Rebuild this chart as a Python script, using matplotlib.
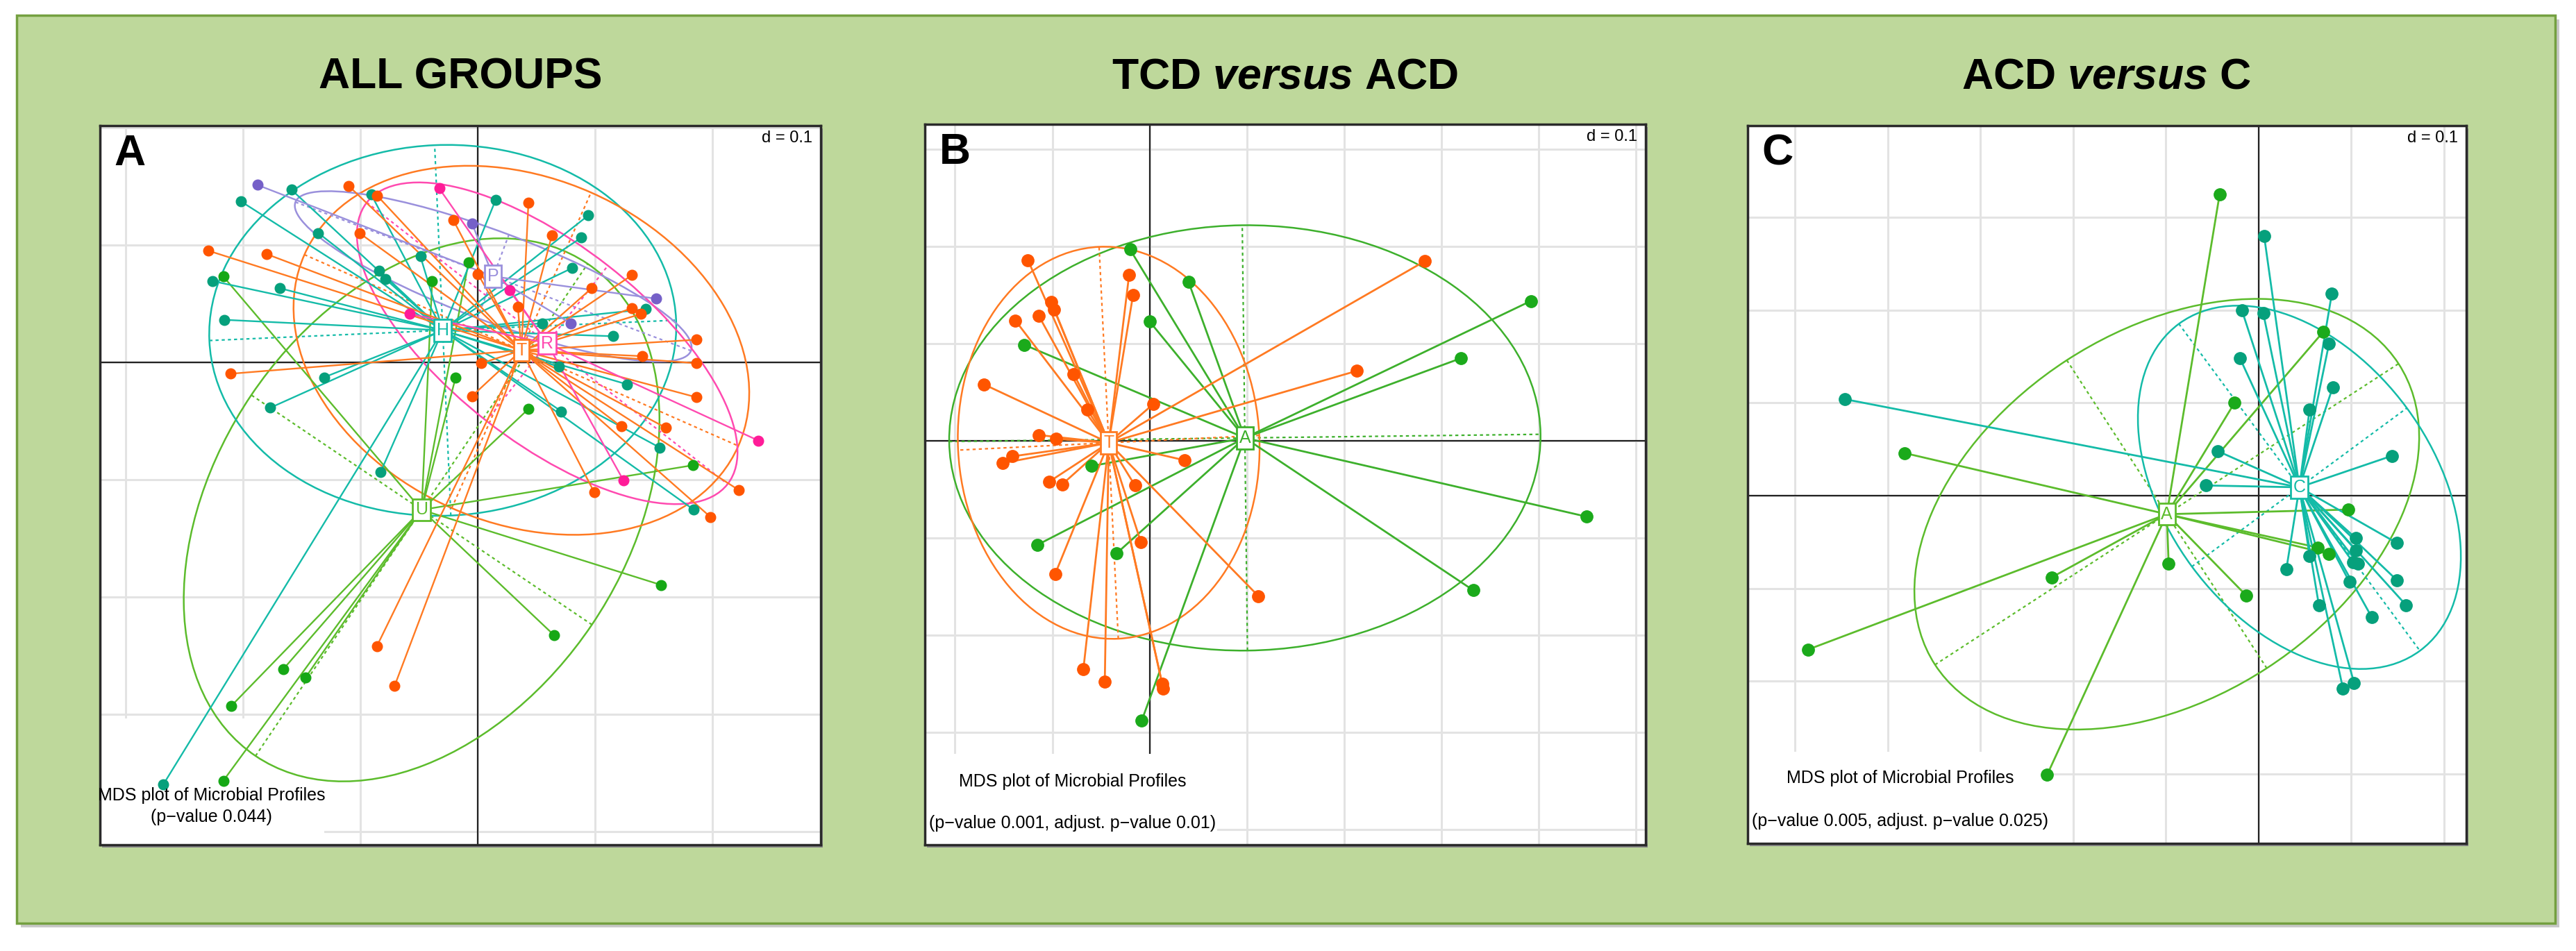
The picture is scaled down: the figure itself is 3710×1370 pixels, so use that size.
import numpy as np
import matplotlib
matplotlib.use("Agg")
import matplotlib.pyplot as plt
from matplotlib.patches import Ellipse, Rectangle

plt.rcParams['font.family'] = ['Liberation Sans', 'DejaVu Sans']
plt.rcParams['mathtext.fontset'] = 'custom'
plt.rcParams['mathtext.rm'] = 'Liberation Sans:bold'
plt.rcParams['mathtext.it'] = 'Liberation Sans:italic:bold'

# ---- data, in grid units (one grid square = d = 0.1) ----
# panel A : all groups
a_H_x = [-1.59, -2.02, -0.91, -1.36, -2.26, -1.69, -2.16, -0.84, -0.79, -0.49, 0.15, 0.94, 0.88,
         0.80, 0.55, 1.15, 1.43, -1.31, -1.77, -0.83, 0.71, 1.27, 1.55, 1.84, -2.68, 0.69]
a_H_y = [1.47, 1.37, 1.43, 1.10, 0.69, 0.63, 0.36, 0.78, 0.71, 0.90, 1.38, 1.25, 1.06,
         0.80, 0.33, 0.22, 0.45, -0.13, -0.39, -0.94, -0.42, -0.19, -0.73, -1.26, -3.60, -0.04]
a_T_x = [-1.10, -0.86, -0.21, -1.01, -2.30, -1.80, 0.43, 0.63, 1.31, 0.97, 0.34, 1.31, 1.39, 1.86,
         1.40, 1.86, 1.86, -2.11, 0.03, -0.05, 1.22, 1.60, 0.99, 2.22, 1.98, -0.86, -0.71, 0.00]
a_T_y = [1.50, 1.42, 1.21, 1.10, 0.95, 0.92, 1.36, 1.08, 0.74, 0.63, 0.47, 0.46, 0.41, 0.19,
         0.05, -0.01, -0.30, -0.10, -0.01, -0.29, -0.55, -0.56, -1.11, -1.09, -1.32, -2.42, -2.76, 0.75]
a_R_x = [-0.33, 0.27, -0.58, 2.39, 1.24]
a_R_y = [1.48, 0.61, 0.41, -0.67, -1.01]
a_P_x = [-1.88, -0.05, 1.52, 0.79]
a_P_y = [1.51, 1.18, 0.54, 0.33]
a_U_x = [-2.17, -0.39, -0.08, -0.19, 0.43, 1.83, 1.56, 0.65, -1.66, -1.47, -2.10, -2.17]
a_U_y = [0.73, 0.69, 0.85, -0.13, -0.40, -0.88, -1.90, -2.33, -2.62, -2.69, -2.93, -3.57]
a_centers = {'H': (-0.30, 0.27), 'T': (0.37, 0.10), 'R': (0.59, 0.16), 'P': (0.13, 0.73), 'U': (-0.48, -1.26)}
# ellipse half axes and angle (deg)
a_ell = {'H': (1.99, 1.58, 2.5), 'T': (2.02, 1.47, -23.8), 'R': (1.95, 0.84, -38.0),
         'P': (1.80, 0.38, -20.6), 'U': (2.53, 1.75, 56.0)}

# panel B : TCD versus ACD
b_T_x = [-1.25, -0.21, -0.17, -1.01, -0.98, -1.38, -1.14, -0.78, -0.64, -1.70, -1.14, -0.96, -1.41, -1.51,
         -1.03, -0.90, -0.15, 0.04, 0.36, -0.09, -0.97, 1.12, 2.83, 2.13, -0.68, -0.46, 0.13, 0.14]
b_T_y = [1.86, 1.71, 1.50, 1.43, 1.35, 1.24, 1.29, 0.69, 0.32, 0.58, 0.06, 0.02, -0.16, -0.23,
         -0.42, -0.45, -0.46, 0.38, -0.20, -1.04, -1.37, -1.60, 1.85, 0.72, -2.35, -2.48, -2.50, -2.55]
b_A_x = [-0.20, 0.40, 0.00, -1.29, 3.92, 3.20, 4.49, 3.33, -0.60, -1.15, -0.34, -0.08]
b_A_y = [1.97, 1.64, 1.23, 0.99, 1.44, 0.85, -0.78, -1.54, -0.26, -1.07, -1.16, -2.88]
b_centers = {'T': (-0.42, -0.02), 'A': (0.98, 0.03)}
b_ell = {'T': (2.02, 1.55, 92.8), 'A': (3.04, 2.19, 0.7)}

# panel C : ACD versus C
c_A_x = [-0.42, -3.82, -4.86, -2.23, -2.28, -0.97, -0.13, -0.26, 0.70, 0.97, 0.64, 0.76]
c_A_y = [3.25, 0.46, -1.66, -0.88, -3.01, -0.73, -1.08, 1.00, 1.77, -0.15, -0.56, -0.63]
c_C_x = [0.80, 0.55, 1.44, 1.49, 1.05, 1.05, 1.02, 1.07, 0.55, 0.30, 0.98, 1.49, 1.59, 1.22,
         0.65, 0.06, 0.79, -0.18, 0.05, 0.76, -0.20, -0.44, -0.57, -4.46, 0.91, 1.03]
c_C_y = [1.17, 0.93, 0.43, -0.51, -0.46, -0.59, -0.72, -0.73, -0.65, -0.79, -0.93, -0.91, -1.18, -1.31,
         -1.18, 2.80, 2.18, 2.00, 1.97, 1.64, 1.48, 0.48, 0.11, 1.04, -2.08, -2.02]
c_centers = {'A': (-0.99, -0.20), 'C': (0.44, 0.09)}
c_ell = {'A': (2.98, 1.98, 33.0), 'C': (2.19, 1.44, -53.6)}

# colours: (points, lines)
TEAL = ('#06A07C', '#14BBA8')
ORANGE = ('#FF5500', '#FF7A22')
PINK = ('#FF1C98', '#FF4AB0')
PURPLE = ('#7560C8', '#9A90DC')
GREEN = ('#16A816', '#5CBC2C')


def draw_group(ax, xs, ys, center, ell, cols, label, ms, lw):
    pc, lc = cols
    cx, cy = center
    a, b, ang = ell
    t = np.deg2rad(ang)
    ax.add_patch(Ellipse((cx, cy), 2 * a, 2 * b, angle=ang, fill=False, ec=lc, lw=1.8, zorder=2))
    ax.plot([cx - a * np.cos(t), cx + a * np.cos(t)], [cy - a * np.sin(t), cy + a * np.sin(t)],
            ls=(0, (2, 2)), color=lc, lw=1.6, zorder=2)
    ax.plot([cx + b * np.sin(t), cx - b * np.sin(t)], [cy - b * np.cos(t), cy + b * np.cos(t)],
            ls=(0, (2, 2)), color=lc, lw=1.6, zorder=2)
    for x, y in zip(xs, ys):
        ax.plot([cx, x], [cy, y], color=lc, lw=lw, zorder=3)
    ax.plot(xs, ys, 'o', color=pc, ms=ms, mec=pc, zorder=4)
    return (cx, cy, label, lc)


def setup(ax, xlim, ylim, letter, cover):
    ax.set_xlim(*xlim)
    ax.set_ylim(*ylim)
    ax.set_xticks([])
    ax.set_yticks([])
    for v in range(int(np.ceil(xlim[0])), int(np.floor(xlim[1])) + 1):
        ax.axvline(v, color='#E3E3E3', lw=2.2, zorder=0)
    for v in range(int(np.ceil(ylim[0])), int(np.floor(ylim[1])) + 1):
        ax.axhline(v, color='#E3E3E3', lw=2.2, zorder=0)
    ax.axvline(0, color='#222222', lw=1.6, zorder=0.5)
    ax.axhline(0, color='#222222', lw=1.6, zorder=0.5)
    ax.add_patch(Rectangle((0, 0), cover[0], cover[1], transform=ax.transAxes,
                           fc='white', ec='none', zorder=1))
    for s in ax.spines.values():
        s.set_color('#2A2A2A')
        s.set_linewidth(2.5)
    ax.text(0.02, 0.945, letter, transform=ax.transAxes, fontsize=45, fontweight='bold',
            ha='left', va='baseline', zorder=6)
    ax.text(0.988, 0.977, 'd = 0.1', transform=ax.transAxes, fontsize=17,
            ha='right', va='baseline', zorder=6)


def put_labels(ax, labs):
    for cx, cy, lab, col in labs:
        ax.text(cx, cy, lab, color=col, fontsize=18, ha='center', va='center', zorder=5,
                bbox=dict(boxstyle='square,pad=0.15', fc='white', ec=col, lw=2))


def shadow(rect):
    # grey shadow just behind a panel frame
    x, y, w, h = rect
    fig.patches.append(Rectangle((x + 3 / 3710, y - 4 / 1370), w, h, transform=fig.transFigure,
                                 fc='#8A8A8A', ec='none', zorder=-1))


fig = plt.figure(figsize=(37.1, 13.7), dpi=100)
fig.patch.set_facecolor('white')

# green backdrop with a soft shadow
fig.patches.append(Rectangle((30 / 3710, 1 - 1336 / 1370), 3656 / 3710, 1308 / 1370,
                             transform=fig.transFigure, fc='#C8C8C8', ec='none', zorder=-3))
fig.patches.append(Rectangle((24 / 3710, 1 - 1330 / 1370), 3656 / 3710, 1308 / 1370,
                             transform=fig.transFigure, fc='#BED89B', ec='#74A040', lw=2.5, zorder=-2))

fig.text(663 / 3710, 1 - 128 / 1370, 'ALL GROUPS', fontsize=45, fontweight='bold', ha='center', va='baseline')
fig.text(1851 / 3710, 1 - 128 / 1370, r'TCD $\mathit{versus}$ ACD', fontsize=45, fontweight='bold',
         ha='center', va='baseline')
fig.text(3034 / 3710, 1 - 128 / 1370, r'ACD $\mathit{versus}$ C', fontsize=45, fontweight='bold',
         ha='center', va='baseline')

# panel A
rectA = [144 / 3710, 1 - 1217 / 1370, 1038 / 3710, 1036 / 1370]
shadow(rectA)
axA = fig.add_axes(rectA)
setup(axA, (-3.22, 2.92), (-4.115, 2.015), 'A', (0.311, 0.176))
labs = []
labs.append(draw_group(axA, a_U_x, a_U_y, a_centers['U'], a_ell['U'], GREEN, 'U', 10.5, 1.7))
labs.append(draw_group(axA, a_H_x, a_H_y, a_centers['H'], a_ell['H'], TEAL, 'H', 10.5, 1.7))
labs.append(draw_group(axA, a_T_x, a_T_y, a_centers['T'], a_ell['T'], ORANGE, 'T', 10.5, 1.7))
labs.append(draw_group(axA, a_P_x, a_P_y, a_centers['P'], a_ell['P'], PURPLE, 'P', 10.5, 1.7))
labs.append(draw_group(axA, a_R_x, a_R_y, a_centers['R'], a_ell['R'], PINK, 'R', 10.5, 1.7))
put_labels(axA, labs)
axA.text(0.155, 0.062, 'MDS plot of Microbial Profiles', transform=axA.transAxes, fontsize=18,
         ha='center', va='baseline', zorder=6)
axA.text(0.155, 0.032, '(p\u2212value 0.044)', transform=axA.transAxes, fontsize=18,
         ha='center', va='baseline', zorder=6)

# panel B
rectB = [1332 / 3710, 1 - 1217 / 1370, 1038 / 3710, 1038 / 1370]
shadow(rectB)
axB = fig.add_axes(rectB)
setup(axB, (-2.31, 5.10), (-4.16, 3.26), 'B', (0.406, 0.126))
labs = []
labs.append(draw_group(axB, b_A_x, b_A_y, b_centers['A'], b_ell['A'], ('#1BAA1B', '#3DB02C'), 'A', 12.5, 2.0))
labs.append(draw_group(axB, b_T_x, b_T_y, b_centers['T'], b_ell['T'], ORANGE, 'T', 12.5, 2.0))
put_labels(axB, labs)
axB.text(0.205, 0.081, 'MDS plot of Microbial Profiles', transform=axB.transAxes, fontsize=18,
         ha='center', va='baseline', zorder=6)
axB.text(0.205, 0.023, '(p\u2212value 0.001, adjust. p\u2212value 0.01)', transform=axB.transAxes,
         fontsize=18, ha='center', va='baseline', zorder=6)

# panel C
rectC = [2517 / 3710, 1 - 1215 / 1370, 1035 / 3710, 1034 / 1370]
shadow(rectC)
axC = fig.add_axes(rectC)
setup(axC, (-5.51, 2.24), (-3.75, 3.99), 'C', (0.423, 0.128))
labs = []
labs.append(draw_group(axC, c_A_x, c_A_y, c_centers['A'], c_ell['A'], ('#1BAA1B', '#5CBC2C'), 'A', 12.5, 2.0))
labs.append(draw_group(axC, c_C_x, c_C_y, c_centers['C'], c_ell['C'], TEAL, 'C', 12.5, 2.0))
put_labels(axC, labs)
axC.text(0.212, 0.084, 'MDS plot of Microbial Profiles', transform=axC.transAxes, fontsize=18,
         ha='center', va='baseline', zorder=6)
axC.text(0.212, 0.024, '(p\u2212value 0.005, adjust. p\u2212value 0.025)', transform=axC.transAxes,
         fontsize=18, ha='center', va='baseline', zorder=6)

fig.savefig('out.png', dpi=100)
